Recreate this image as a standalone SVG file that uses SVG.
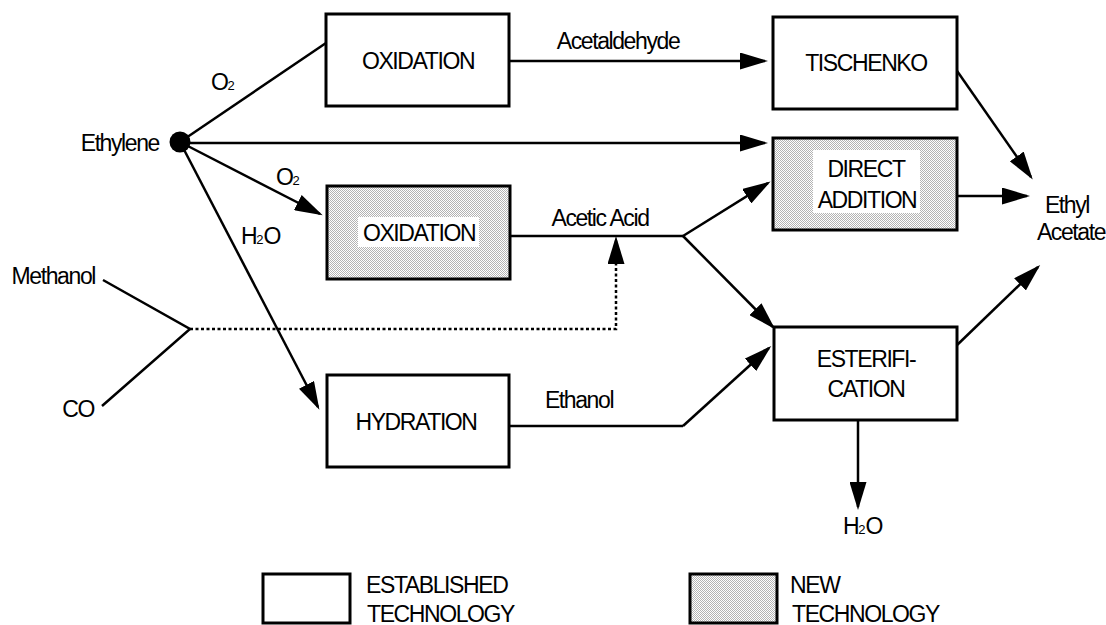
<svg xmlns="http://www.w3.org/2000/svg" width="1106" height="625" viewBox="0 0 1106 625">
<style>
text{font-family:"Liberation Sans",Arial,sans-serif;font-size:23px;letter-spacing:-1.4px;fill:#000}
.c{text-anchor:middle}
.e{text-anchor:end}
.sub{font-size:13px;letter-spacing:0}
.box{fill:#fff;stroke:#000;stroke-width:3}
.new{fill:url(#dots);stroke:#000;stroke-width:3}
.lbl{fill:#fff;stroke:none}
.ln{fill:none;stroke:#000;stroke-width:2.5}
.arr{marker-end:url(#ah)}
.dot{stroke-dasharray:3 2.5}
</style>
<defs>
<pattern id="dots" width="2" height="2" patternUnits="userSpaceOnUse">
<rect width="2" height="2" fill="#ffffff"/>
<rect width="1" height="1" fill="#b4b4b4"/>
<rect x="1" y="1" width="1" height="1" fill="#b4b4b4"/>
</pattern>
<marker id="ah" markerUnits="userSpaceOnUse" markerWidth="29" markerHeight="17" refX="25" refY="8.5" orient="auto">
<path d="M0,0 L28,8.5 L0,17 z" fill="#000" stroke="none"/>
</marker>
</defs>

<g id="connectors">
<path class="ln" d="M180,142 L326,43"/>
<path class="ln arr" d="M180,143 L765,143"/>
<path class="ln arr" d="M180,142 L320,214"/>
<path class="ln arr" d="M180,142 L318,407"/>
<path class="ln arr" d="M509,61 L765,61"/>
<path class="ln arr" d="M955,68 L1031,177"/>
<path class="ln arr" d="M957,196 L1027,196"/>
<path class="ln" d="M510,236 L683,236"/>
<path class="ln arr" d="M683,236 L768,183"/>
<path class="ln arr" d="M683,236 L773,327"/>
<path class="ln" d="M103,280 L190,329 L102,406"/>
<path class="ln dot arr" d="M190,329 L616,329 L616,239"/>
<path class="ln" d="M508,426 L683,426"/>
<path class="ln arr" d="M683,426 L769,348"/>
<path class="ln arr" d="M955,347 L1038,267"/>
<path class="ln arr" d="M858,420 L858,507"/>
</g>

<g id="labels">
<text x="211" y="90">O<tspan class="sub">2</tspan></text>
<text x="276" y="185">O<tspan class="sub">2</tspan></text>
<text x="241" y="244">H<tspan class="sub">2</tspan>O</text>
<text class="c" x="618" y="49">Acetaldehyde</text>
<text class="c" x="600" y="226">Acetic Acid</text>
<text class="c" x="579" y="408">Ethanol</text>
</g>

<g id="ethylene">
<circle cx="180" cy="142" r="10.5" fill="#000"/>
<text class="e" x="159" y="151">Ethylene</text>
</g>

<g id="methanol"><text class="e" x="95" y="284">Methanol</text></g>
<g id="co"><text class="e" x="94" y="417">CO</text></g>

<g id="oxidation-top">
<rect class="box" x="326" y="14" width="183" height="92"/>
<text class="c" x="418" y="69">OXIDATION</text>
</g>

<g id="oxidation-new">
<rect class="new" x="327" y="186" width="183" height="93"/>
<rect class="lbl" x="358" y="217" width="121" height="30"/>
<text class="c" x="419" y="241">OXIDATION</text>
</g>

<g id="hydration">
<rect class="box" x="327" y="375" width="182" height="92"/>
<text class="c" x="416" y="430">HYDRATION</text>
</g>

<g id="tischenko">
<rect class="box" x="773" y="17" width="184" height="92"/>
<text class="c" x="866" y="71">TISCHENKO</text>
</g>

<g id="direct-addition">
<rect class="new" x="773" y="138" width="184" height="92"/>
<rect class="lbl" x="813" y="150" width="107" height="63"/>
<text class="c" x="866" y="177">DIRECT</text>
<text class="c" x="867" y="208">ADDITION</text>
</g>

<g id="esterification">
<rect class="box" x="774" y="327" width="183" height="93"/>
<text class="c" x="866" y="367">ESTERIFI-</text>
<text class="c" x="866" y="397">CATION</text>
</g>

<g id="ethyl-acetate">
<text class="c" x="1067" y="213">Ethyl</text>
<text class="c" x="1071" y="240">Acetate</text>
</g>

<g id="water">
<text x="843" y="534">H<tspan class="sub">2</tspan>O</text>
</g>

<g id="legend-established">
<rect class="box" x="263" y="574" width="87" height="49"/>
<text x="366" y="593">ESTABLISHED</text>
<text x="367" y="622">TECHNOLOGY</text>
</g>

<g id="legend-new">
<rect class="new" x="690" y="574" width="87" height="49"/>
<text x="790" y="593">NEW</text>
<text x="792" y="622">TECHNOLOGY</text>
</g>
</svg>
